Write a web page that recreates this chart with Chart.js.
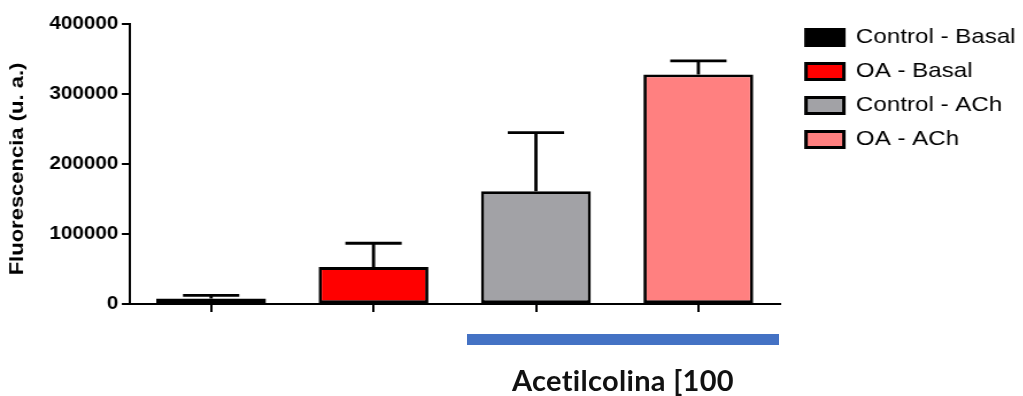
<!DOCTYPE html>
<html>
<head>
<meta charset="utf-8">
<script src="https://cdn.jsdelivr.net/npm/chart.js@4"></script>
<style>
  html, body { margin: 0; padding: 0; background: #fff; }
  #wrap { position: relative; width: 1023px; height: 396px; overflow: hidden; }
  /* la figura original está algo estirada en horizontal */
  #barChart { position: absolute; left: 0; top: 0; }
  #barra { position: absolute; left: 467px; top: 334px; width: 312px; height: 11px; background: #4472C4; }
  #rotulo { position: absolute; left: 467px; width: 312px; top: 362px; text-align: center;
            font-family: Lato, "Open Sans", sans-serif; font-weight: 700; font-size: 29px;
            letter-spacing: 0.3px; color: #111; }
</style>
</head>
<body>
<div id="wrap">
  <canvas id="barChart" width="894" height="396" style="width:1027px;height:396px"></canvas>
  <div id="barra"></div>
  <div id="rotulo">Acetilcolina [100</div>
</div>
<script>
// datos
const categorias = ['Control - Basal', 'OA - Basal', 'Control - ACh', 'OA - ACh'];
const medias     = [8000, 52700, 161000, 328000];
const errores    = [4200, 34100, 83800, 19300];
const colores    = ['#000000', '#FF0000', '#A2A2A6', '#FF8080'];
const ticksY     = [0, 100000, 200000, 300000, 400000];
const tituloY    = 'Fluorescencia (u. a.)';

const fuente = '"Liberation Sans", Arial, sans-serif';

// MARK: barras de error (solo hacia arriba)
const errorBars = {
  id: 'errorBars',
  afterDatasetsDraw(chart) {
    const ctx = chart.ctx;
    const y = chart.scales.y;
    const meta = chart.getDatasetMeta(0);
    ctx.save();
    ctx.strokeStyle = '#000';
    ctx.lineWidth = 2.8;
    meta.data.forEach((bar, i) => {
      const top = y.getPixelForValue(medias[i] + errores[i]);
      const base = y.getPixelForValue(medias[i]);
      ctx.beginPath();
      ctx.moveTo(bar.x, base);
      ctx.lineTo(bar.x, top);
      ctx.moveTo(bar.x - 24.5, top);
      ctx.lineTo(bar.x + 24.5, top);
      ctx.stroke();
    });
    ctx.restore();
  }
};

// MARK: título del eje Y, algo comprimido como en la figura
const yTitle = {
  id: 'yTitle',
  afterDraw(chart) {
    const ctx = chart.ctx;
    const area = chart.chartArea;
    ctx.save();
    ctx.translate(16, (area.top + area.bottom) / 2 + 5);
    ctx.rotate(-Math.PI / 2);
    ctx.scale(1, 0.74);
    ctx.font = 'bold 22px ' + fuente;
    ctx.fillStyle = '#000';
    ctx.textAlign = 'center';
    ctx.textBaseline = 'middle';
    ctx.fillText(tituloY, 0, 0);
    ctx.restore();
  }
};

new Chart(document.getElementById('barChart'), {
  type: 'bar',
  data: {
    labels: categorias,
    datasets: [{
      data: medias,
      backgroundColor: colores,
      borderColor: '#000',
      borderWidth: 2.8,
      borderSkipped: false,
      categoryPercentage: 1,
      barPercentage: 0.676
    }]
  },
  options: {
    responsive: false,
    animation: false,
    devicePixelRatio: 1,
    layout: { padding: { left: 40, top: 14, right: 0, bottom: 84 } },
    plugins: {
      tooltip: { enabled: false },
      legend: {
        position: 'right',
        align: 'start',
        labels: {
          color: '#000',
          font: { family: fuente, size: 21 },
          boxWidth: 33,
          boxHeight: 16,
          padding: 13,
          generateLabels: () => categorias.map((c, i) => ({
            text: c, fillStyle: colores[i], strokeStyle: '#000', lineWidth: 3, hidden: false, index: i
          }))
        }
      }
    },
    scales: {
      x: {
        grid: { drawOnChartArea: false, drawTicks: true, tickLength: 8, color: '#000', lineWidth: 2, offset: false },
        border: { color: '#000', width: 2 },
        ticks: { display: false }
      },
      y: {
        min: 0,
        max: 400000,
        afterBuildTicks: (s) => { s.ticks = ticksY.map(v => ({ value: v })); },
        grid: { drawOnChartArea: false, drawTicks: true, tickLength: 7, color: '#000', lineWidth: 2 },
        border: { color: '#000', width: 2 },
        ticks: {
          color: '#000',
          padding: 3,
          font: { family: fuente, size: 18, weight: 'bold', lineHeight: 2.33 },
          callback: v => String(v)
        }
      },
      // eje oculto que deja un hueco entre el área y la leyenda
      hueco: {
        position: 'right',
        display: false,
        afterFit: (s) => { s.width = 10; }
      }
    }
  },
  plugins: [errorBars, yTitle]
});
</script>
</body>
</html>
